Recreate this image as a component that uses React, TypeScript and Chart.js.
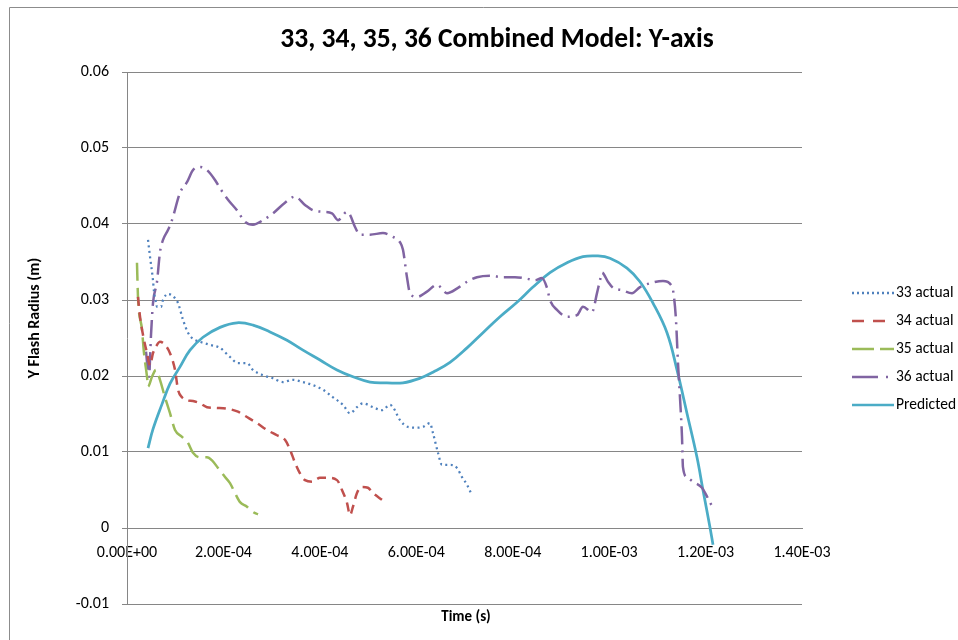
import { useEffect, useRef } from 'react';
import { Chart, registerables } from 'chart.js';

Chart.register(...registerables);

const FONT = 'Carlito, Calibri, Lato, sans-serif';

// Time values are listed in units of 1e-4 s; radius values in metres.
const t33 = [0.436, 0.477, 0.539, 0.56, 0.601, 0.622, 0.705, 0.747, 0.85, 0.954, 1.058, 1.161, 1.265, 1.369, 1.514, 1.721, 1.929, 2.136, 2.302, 2.489, 2.613, 2.82, 3.028, 3.235, 3.443, 3.65, 3.857, 4.065, 4.272, 4.48, 4.625, 4.77, 4.895, 5.102, 5.289, 5.455, 5.517, 5.662, 5.828, 6.015, 6.139, 6.284, 6.346, 6.45, 6.533, 6.699, 6.844, 6.948, 7.052, 7.134];
const r33 = [0.0379, 0.0357, 0.0326, 0.0311, 0.0297, 0.0291, 0.0291, 0.03, 0.0308, 0.0305, 0.0296, 0.0274, 0.0257, 0.0249, 0.0245, 0.0241, 0.0237, 0.0225, 0.0217, 0.0217, 0.0208, 0.0201, 0.0197, 0.0192, 0.0195, 0.0192, 0.0188, 0.0182, 0.0172, 0.0162, 0.0151, 0.0159, 0.0164, 0.0159, 0.0155, 0.0162, 0.0159, 0.0142, 0.0133, 0.0132, 0.0133, 0.0138, 0.0125, 0.0099, 0.0083, 0.0083, 0.0079, 0.0067, 0.0057, 0.0046];

const t34 = [0.228, 0.27, 0.332, 0.415, 0.477, 0.539, 0.622, 0.684, 0.788, 0.892, 0.996, 1.058, 1.141, 1.244, 1.369, 1.514, 1.659, 1.867, 2.074, 2.302, 2.489, 2.696, 2.904, 3.111, 3.277, 3.381, 3.484, 3.588, 3.692, 3.837, 4.003, 4.169, 4.355, 4.459, 4.563, 4.625, 4.687, 4.77, 4.874, 4.998, 5.102, 5.289];
const r34 = [0.0304, 0.0278, 0.0254, 0.023, 0.0214, 0.023, 0.0241, 0.0245, 0.0241, 0.023, 0.0208, 0.0182, 0.0172, 0.0168, 0.0167, 0.0164, 0.0159, 0.0158, 0.0157, 0.0153, 0.0146, 0.0138, 0.0129, 0.0122, 0.0116, 0.0103, 0.0086, 0.0072, 0.0063, 0.0061, 0.0066, 0.0066, 0.0063, 0.005, 0.0033, 0.0017, 0.0028, 0.0046, 0.0054, 0.0053, 0.0046, 0.0037];

const t35 = [0.207, 0.228, 0.311, 0.353, 0.415, 0.436, 0.519, 0.601, 0.684, 0.788, 0.892, 0.996, 1.141, 1.265, 1.369, 1.514, 1.659, 1.763, 1.887, 2.033, 2.136, 2.24, 2.344, 2.489, 2.613, 2.717];
const r35 = [0.0349, 0.0304, 0.0261, 0.023, 0.0199, 0.0186, 0.0199, 0.0208, 0.0195, 0.0172, 0.0151, 0.0129, 0.012, 0.0112, 0.0099, 0.0093, 0.0093, 0.0089, 0.0079, 0.0067, 0.0059, 0.0046, 0.0034, 0.0028, 0.0021, 0.0018];

const t36 = [0.394, 0.456, 0.498, 0.539, 0.622, 0.684, 0.747, 0.85, 0.933, 1.099, 1.244, 1.369, 1.514, 1.659, 1.825, 1.929, 2.095, 2.281, 2.447, 2.613, 2.82, 3.028, 3.277, 3.484, 3.692, 3.857, 4.065, 4.252, 4.376, 4.563, 4.625, 4.729, 4.832, 5.04, 5.309, 5.517, 5.662, 5.724, 5.807, 5.869, 6.015, 6.222, 6.429, 6.637, 6.865, 7.052, 7.259, 7.529, 7.798, 8.047, 8.296, 8.462, 8.607, 8.711, 8.773, 8.918, 9.126, 9.333, 9.457, 9.644, 9.748, 9.81, 9.852, 9.976, 10.08, 10.266, 10.474, 10.64, 10.847, 11.117, 11.303, 11.345, 11.386, 11.428, 11.469, 11.511, 11.531, 11.614, 11.739, 11.925, 12.05, 12.154];
const r36 = [0.0232, 0.0199, 0.0254, 0.0296, 0.0324, 0.0363, 0.0379, 0.0392, 0.0405, 0.0441, 0.0455, 0.0471, 0.0475, 0.0471, 0.0458, 0.0447, 0.0432, 0.0418, 0.0403, 0.0399, 0.0405, 0.0414, 0.0428, 0.0436, 0.0425, 0.0418, 0.0416, 0.0414, 0.0405, 0.0416, 0.0412, 0.0396, 0.0386, 0.0386, 0.0388, 0.0383, 0.0376, 0.0366, 0.033, 0.0309, 0.0304, 0.0311, 0.032, 0.0309, 0.0316, 0.0324, 0.033, 0.0332, 0.033, 0.033, 0.0328, 0.0326, 0.0329, 0.0316, 0.03, 0.0287, 0.0278, 0.028, 0.0291, 0.0284, 0.0309, 0.0326, 0.0336, 0.0324, 0.0316, 0.0313, 0.0309, 0.0317, 0.0322, 0.0325, 0.0318, 0.0304, 0.0274, 0.0217, 0.0172, 0.012, 0.008, 0.0067, 0.0061, 0.0053, 0.0039, 0.0026];

const tPred = [0.436, 0.539, 0.726, 0.892, 1.099, 1.307, 1.576, 1.929, 2.281, 2.613, 2.966, 3.318, 3.65, 4.003, 4.355, 4.687, 5.04, 5.392, 5.724, 6.077, 6.346, 6.699, 7.052, 7.383, 7.736, 8.089, 8.42, 8.773, 9.126, 9.457, 9.748, 10.017, 10.37, 10.64, 10.909, 11.2, 11.407, 11.614, 11.822, 11.946, 12.091, 12.154];
const rPred = [0.0105, 0.013, 0.0163, 0.019, 0.0212, 0.0234, 0.0251, 0.0264, 0.027, 0.0267, 0.0258, 0.0247, 0.0234, 0.0221, 0.0208, 0.0199, 0.0192, 0.0191, 0.0191, 0.0197, 0.0205, 0.0218, 0.0237, 0.0257, 0.0278, 0.0297, 0.0317, 0.0336, 0.0349, 0.0357, 0.0358, 0.0355, 0.0342, 0.0324, 0.0296, 0.0257, 0.0208, 0.0151, 0.0093, 0.005, 0.0001, -0.0022];

const xTicks = [0, 0.0002, 0.0004, 0.0006, 0.0008, 0.001, 0.0012, 0.0014];
const yTicks = [-0.01, 0, 0.01, 0.02, 0.03, 0.04, 0.05, 0.06];

const seriesLabels = ['33 actual', '34 actual', '35 actual', '36 actual', 'Predicted'];
const seriesColors = ['#4F81BD', '#C0504D', '#9BBB59', '#8064A2', '#4BACC6'];
const lineDashes = [[2, 3.5], [9, 6], [18, 7], [18, 6, 2, 6], []];
const legendDashes = [[2, 3], [12, 9], [22, 6], [26, 8, 2, 8], []];

const TITLE = '33, 34, 35, 36 Combined Model: Y-axis';
const X_TITLE = 'Time (s)';
const Y_TITLE = 'Y Flash Radius (m)';

function toPoints(t: number[], r: number[]) {
  return t.map((v, i) => ({ x: v * 1e-4, y: r[i] }));
}

function sciLabel(v: number) {
  const [m, e] = v.toExponential(2).split('e');
  const n = parseInt(e, 10);
  return `${m}E${n < 0 ? '-' : '+'}${String(Math.abs(n)).padStart(2, '0')}`;
}

const decorations = {
  id: 'decorations',
  afterDraw(chart: any) {
    const ctx = chart.ctx as CanvasRenderingContext2D;
    ctx.save();
    // outer frame
    ctx.strokeStyle = '#8c8c8c';
    ctx.lineWidth = 1;
    ctx.beginPath();
    ctx.moveTo(9.5, 640);
    ctx.lineTo(9.5, 7.5);
    ctx.lineTo(958, 7.5);
    ctx.stroke();

    ctx.fillStyle = '#000';
    ctx.textAlign = 'center';
    ctx.textBaseline = 'middle';
    ctx.font = `bold 27.5px ${FONT}`;
    ctx.fillText(TITLE, 497, 40);

    ctx.font = `bold 15px ${FONT}`;
    ctx.fillText(X_TITLE, 466, 617);

    ctx.save();
    ctx.translate(35, 318);
    ctx.rotate(-Math.PI / 2);
    ctx.font = `bold 16px ${FONT}`;
    ctx.fillText(Y_TITLE, 0, 0);
    ctx.restore();

    // legend
    ctx.font = `15.5px ${FONT}`;
    ctx.textAlign = 'left';
    chart.data.datasets.forEach((ds: any, i: number) => {
      const y = 293 + i * 28;
      ctx.setLineDash(legendDashes[i]);
      ctx.strokeStyle = ds.borderColor;
      ctx.lineWidth = 2.5;
      ctx.beginPath();
      ctx.moveTo(852, y);
      ctx.lineTo(894, y);
      ctx.stroke();
      ctx.setLineDash([]);
      ctx.fillStyle = '#000';
      ctx.fillText(ds.label, 896, y);
    });
    ctx.restore();
  },
};

export default function App() {
  const ref = useRef<HTMLCanvasElement | null>(null);

  useEffect(() => {
    if (!ref.current) return;
    const series = [
      toPoints(t33, r33),
      toPoints(t34, r34),
      toPoints(t35, r35),
      toPoints(t36, r36),
      toPoints(tPred, rPred),
    ];
    const chart = new Chart(ref.current, {
      type: 'line',
      data: {
        datasets: series.map((data, i) => ({
          label: seriesLabels[i],
          data,
          borderColor: seriesColors[i],
          backgroundColor: seriesColors[i],
          borderWidth: i === 0 ? 2.25 : i === 4 ? 2.75 : 2.5,
          borderDash: lineDashes[i],
          pointRadius: 0,
          fill: false,
          cubicInterpolationMode: (i === 4 ? 'default' : 'monotone') as any,
          tension: 0.4,
        })),
      },
      options: {
        responsive: false,
        animation: false,
        events: [],
        layout: { padding: { top: 72, right: 156, bottom: 36, left: 0 } },
        plugins: {
          legend: { display: false },
          title: { display: false },
          tooltip: { enabled: false },
        },
        scales: {
          x: {
            type: 'linear',
            position: { y: 0 } as any,
            min: 0,
            max: 0.0014,
            afterBuildTicks: (scale: any) => {
              scale.ticks = xTicks.map((v) => ({ value: v }));
            },
            grid: { display: false, drawTicks: false },
            border: { display: true, color: '#868686', width: 1 },
            ticks: {
              padding: 15,
              color: '#000',
              font: { family: FONT, size: 16 },
              maxRotation: 0,
              autoSkip: false,
              callback: (v: any) => sciLabel(Number(v)),
            },
          },
          y: {
            type: 'linear',
            min: -0.01,
            max: 0.06,
            afterBuildTicks: (scale: any) => {
              scale.ticks = yTicks.map((v) => ({ value: v }));
            },
            afterFit: (scale: any) => {
              scale.width = 127;
            },
            grid: { color: '#868686', lineWidth: 1, tickLength: 5 },
            border: { display: true, color: '#868686', width: 1 },
            ticks: {
              padding: 13,
              color: '#000',
              font: { family: FONT, size: 16 },
              callback: (v: any) => {
                const n = Number(v);
                return Math.abs(n) < 1e-9 ? '0' : n.toFixed(2);
              },
            },
          },
        },
      },
      plugins: [decorations],
    });
    return () => chart.destroy();
  }, []);

  return (
    <div style={{ position: 'fixed', left: 0, top: 0, width: 958, height: 640, background: '#fff' }}>
      <canvas ref={ref} width={958} height={640} />
    </div>
  );
}
